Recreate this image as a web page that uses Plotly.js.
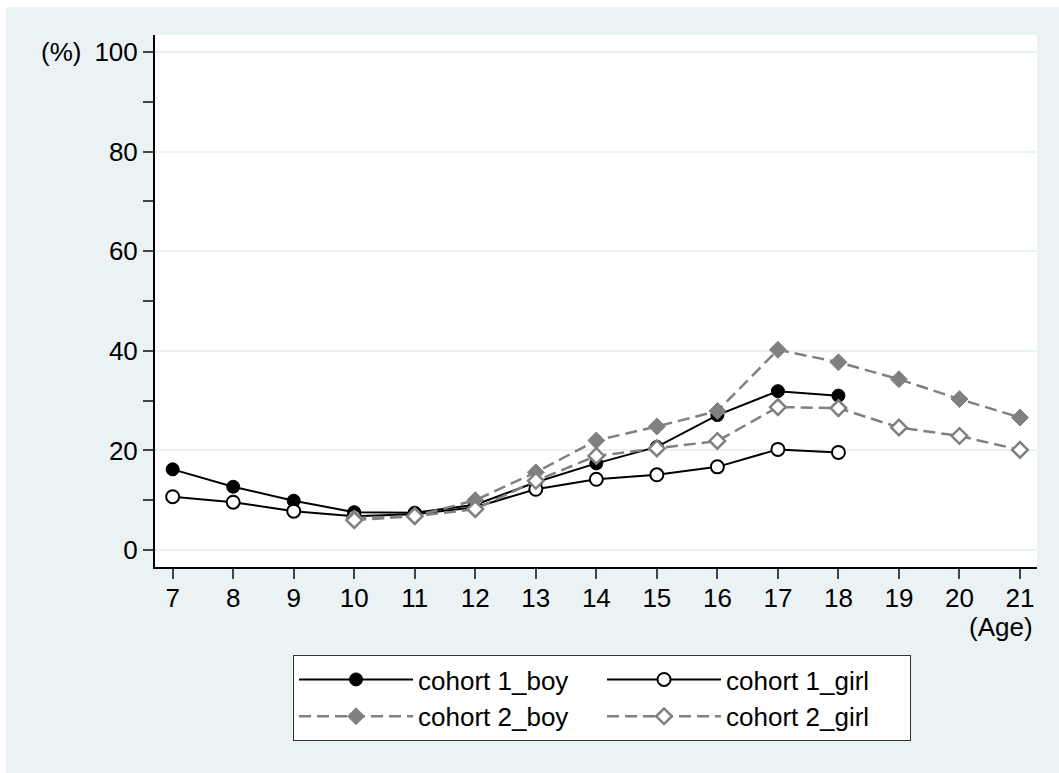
<!DOCTYPE html>
<html>
<head>
<meta charset="utf-8">
<script src="https://cdn.plot.ly/plotly-3.0.1.min.js"></script>
<style>
  html, body { margin: 0; padding: 0; background: #ffffff; }
  #chart { position: absolute; left: 6px; top: 7px; width: 1053px; height: 766px; }
</style>
</head>
<body>
<div id="chart"></div>
<script>
// Data
var ages1 = [7, 8, 9, 10, 11, 12, 13, 14, 15, 16, 17, 18];
var ages2 = [10, 11, 12, 13, 14, 15, 16, 17, 18, 19, 20, 21];
var cohort1Boy  = [16.2, 12.7, 9.9, 7.6, 7.5, 9.1, 13.6, 17.4, 20.7, 27.1, 31.9, 31.0];
var cohort1Girl = [10.7, 9.6, 7.8, 6.8, 7.2, 8.6, 12.2, 14.2, 15.1, 16.7, 20.2, 19.6];
var cohort2Boy  = [6.4, 6.8, 10.0, 15.6, 22.0, 24.8, 27.9, 40.2, 37.7, 34.3, 30.3, 26.6];
var cohort2Girl = [6.0, 6.8, 8.2, 13.9, 18.9, 20.4, 21.9, 28.7, 28.5, 24.6, 22.9, 20.1];
var seriesNames = ['cohort 1_boy', 'cohort 1_girl', 'cohort 2_boy', 'cohort 2_girl'];
var xTicks = [7, 8, 9, 10, 11, 12, 13, 14, 15, 16, 17, 18, 19, 20, 21];
var yTicks = [0, 20, 40, 60, 80, 100];

var FONT = 'Liberation Sans, Arial, Helvetica, sans-serif';
var GRAY = '#808080';

var traces = [
  {
    x: ages1, y: cohort1Boy, name: seriesNames[0], type: 'scatter', mode: 'lines+markers',
    line: {color: '#000000', width: 2},
    marker: {symbol: 'circle', size: 13, color: '#000000', line: {color: '#000000', width: 1}}
  },
  {
    x: ages1, y: cohort1Girl, name: seriesNames[1], type: 'scatter', mode: 'lines+markers',
    line: {color: '#000000', width: 2},
    marker: {symbol: 'circle', size: 13, color: '#ffffff', line: {color: '#000000', width: 2}}
  },
  {
    x: ages2, y: cohort2Boy, name: seriesNames[2], type: 'scatter', mode: 'lines+markers',
    line: {color: GRAY, width: 2.5, dash: '12px,6px'},
    marker: {symbol: 'diamond', size: 13, color: GRAY, line: {color: GRAY, width: 1}}
  },
  {
    x: ages2, y: cohort2Girl, name: seriesNames[3], type: 'scatter', mode: 'lines+markers',
    line: {color: GRAY, width: 2.5, dash: '12px,6px'},
    marker: {symbol: 'diamond', size: 12, color: '#ffffff', line: {color: GRAY, width: 2.5}}
  }
];

var layout = {
  width: 1053, height: 766,
  margin: {l: 149, r: 22, t: 28, b: 206, pad: 0},
  paper_bgcolor: '#eaf2f3',
  plot_bgcolor: '#ffffff',
  font: {family: FONT, size: 26, color: '#000000'},
  showlegend: true,
  xaxis: {
    range: [6.708, 21.281],
    tickmode: 'array', tickvals: xTicks, ticktext: xTicks.map(String),
    ticks: 'outside', ticklen: 10, tickwidth: 2, tickcolor: '#444444',
    ticklabelstandoff: -3,
    showline: true, linecolor: '#000000', linewidth: 2,
    showgrid: false, zeroline: false,
    tickfont: {family: FONT, size: 26, color: '#000000'}
  },
  yaxis: {
    range: [-3.41, 103.41],
    tickmode: 'array', tickvals: yTicks, ticktext: yTicks.map(String),
    ticks: 'outside', ticklen: 10, tickwidth: 2, tickcolor: '#444444',
    minor: {dtick: 10, tick0: 0, ticks: 'outside', ticklen: 10, tickwidth: 2, tickcolor: '#444444', showgrid: false},
    showline: true, linecolor: '#000000', linewidth: 2,
    showgrid: true, gridcolor: '#eaf2f3', gridwidth: 2,
    zeroline: false,
    tickfont: {family: FONT, size: 26, color: '#000000'}
  },
  legend: {
    orientation: 'h',
    x: 0.1565, xanchor: 'left',
    y: -0.1655, yanchor: 'top',
    bgcolor: '#ffffff', bordercolor: '#333333', borderwidth: 1,
    font: {family: FONT, size: 26, color: '#000000'},
    itemwidth: 114,
    entrywidth: 179,
    traceorder: 'normal'
  },
  annotations: [
    {text: '(%)', xref: 'paper', yref: 'y', x: -0.1066, y: 100, xanchor: 'center', yanchor: 'middle',
     showarrow: false, font: {family: FONT, size: 26, color: '#000000'}},
    {text: '(Age)', xref: 'paper', yref: 'paper', x: 0.9977, y: -0.1128, xanchor: 'right', yanchor: 'middle',
     showarrow: false, font: {family: FONT, size: 26, color: '#000000'}}
  ]
};

Plotly.newPlot('chart', traces, layout, {displayModeBar: false, staticPlot: true});
</script>
</body>
</html>
